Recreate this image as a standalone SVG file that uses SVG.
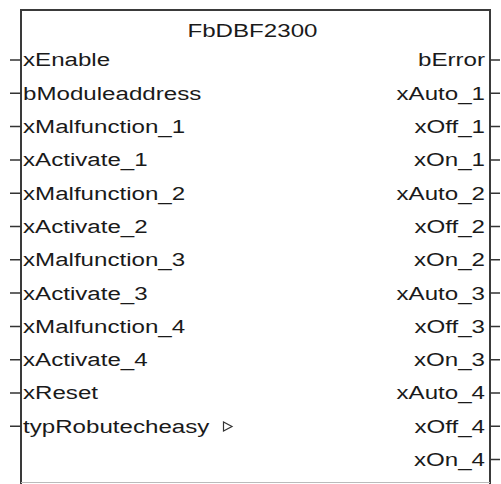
<svg xmlns="http://www.w3.org/2000/svg" width="501" height="484" viewBox="0 0 501 484">
<style>
.t{font-family:"Liberation Sans",Arial,sans-serif;font-size:19px;fill:#1a1a1a}
.r{text-anchor:end}
.pin{stroke:#333;stroke-width:1.5;fill:none}
.box{stroke:#3a3a3a;stroke-width:2;fill:#fff}
</style>
<rect width="501" height="484" fill="#fff"/>
<g id="block">
<path class="box" d="M21,484 V10 H490 V484"/>
<line x1="21" y1="482.5" x2="490" y2="482.5" stroke="#bbb" stroke-width="1"/>
<g transform="scale(1.27,1)">
<text class="t" x="198.8" y="37" text-anchor="middle">FbDBF2300</text>
</g>
</g>
<g id="connectors">
<path class="pin" d="M10,60H21M10,93.3H21M10,126.6H21M10,159.9H21M10,193.2H21M10,226.5H21M10,259.8H21M10,293.1H21M10,326.4H21M10,359.7H21M10,393H21M10,426.3H21"/>
<path class="pin" d="M490,60H500M490,93.3H500M490,126.6H500M490,159.9H500M490,193.2H500M490,226.5H500M490,259.8H500M490,293.1H500M490,326.4H500M490,359.7H500M490,393H500M490,426.3H500M490,459.6H500"/>
</g>
<g id="inputs" transform="scale(1.27,1)">
<text class="t" x="18.1" y="66.5">xEnable</text>
<text class="t" x="18.1" y="99.8">bModuleaddress</text>
<text class="t" x="18.1" y="133.1">xMalfunction_1</text>
<text class="t" x="18.1" y="166.4">xActivate_1</text>
<text class="t" x="18.1" y="199.7">xMalfunction_2</text>
<text class="t" x="18.1" y="233">xActivate_2</text>
<text class="t" x="18.1" y="266.3">xMalfunction_3</text>
<text class="t" x="18.1" y="299.6">xActivate_3</text>
<text class="t" x="18.1" y="332.9">xMalfunction_4</text>
<text class="t" x="18.1" y="366.2">xActivate_4</text>
<text class="t" x="18.1" y="399.5">xReset</text>
<text class="t" x="18.1" y="432.8">typRobutecheasy</text>
</g>
<g id="triangle">
<polygon points="223.5,422 223.5,431 232,426.5" fill="none" stroke="#333" stroke-width="1.2"/>
</g>
<g id="outputs" transform="scale(1.27,1)">
<text class="t r" x="381.9" y="66.5">bError</text>
<text class="t r" x="381.9" y="99.8">xAuto_1</text>
<text class="t r" x="381.9" y="133.1">xOff_1</text>
<text class="t r" x="381.9" y="166.4">xOn_1</text>
<text class="t r" x="381.9" y="199.7">xAuto_2</text>
<text class="t r" x="381.9" y="233">xOff_2</text>
<text class="t r" x="381.9" y="266.3">xOn_2</text>
<text class="t r" x="381.9" y="299.6">xAuto_3</text>
<text class="t r" x="381.9" y="332.9">xOff_3</text>
<text class="t r" x="381.9" y="366.2">xOn_3</text>
<text class="t r" x="381.9" y="399.5">xAuto_4</text>
<text class="t r" x="381.9" y="432.8">xOff_4</text>
<text class="t r" x="381.9" y="466.1">xOn_4</text>
</g>
</svg>
